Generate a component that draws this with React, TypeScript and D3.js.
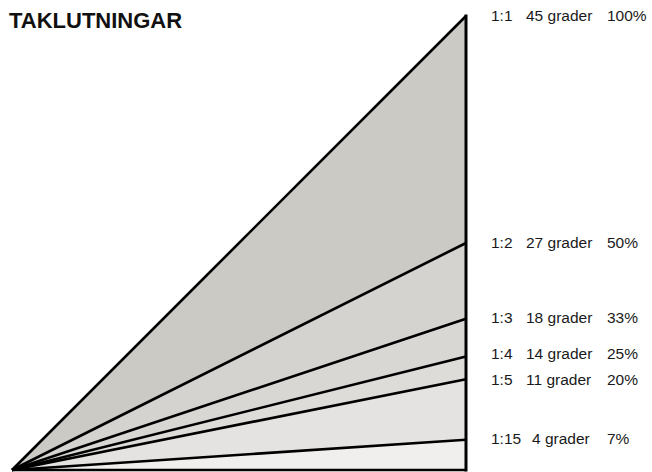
import React from 'react';
import * as d3 from 'd3';

// roof pitches
const ratios = ['1:1', '1:2', '1:3', '1:4', '1:5', '1:15'];
const slopes = [1, 1 / 2, 1 / 3, 1 / 4, 1 / 5, 1 / 15];
const degrees = ['45 grader', '27 grader', '18 grader', '14 grader', '11 grader', '4 grader'];
const percents = ['100%', '50%', '33%', '25%', '20%', '7%'];
const bandColors = ['#cbcac5', '#d4d3cf', '#d8d7d3', '#dddcd9', '#e4e3e1', '#f0efed'];

const W = 652;
const H = 472;

const App: React.FC = () => {
  const x = d3.scaleLinear().domain([0, 1]).range([12, 466]);
  const y = d3.scaleLinear().domain([0, 1]).range([470, 16]);

  const line = d3.line<[number, number]>()
    .x(d => x(d[0]))
    .y(d => y(d[1]));

  // bands between consecutive slopes, last one down to the base
  const bounds = [...slopes, 0];
  const bands = slopes.map((s, i) => {
    const next = bounds[i + 1];
    return line([[0, 0], [1, s], [1, next], [0, 0]]) + 'Z';
  });

  const labelNudge = [-1, -1, -1, -3, 0, -1];
  const font = 'Arial, "Liberation Sans", Helvetica, sans-serif';

  return (
    <svg width={W} height={H} style={{ position: 'absolute', left: 0, top: 0, background: '#fff' }}>
      <text x={9} y={28} fontFamily={font} fontWeight="bold" fontSize={22} fill="#111">
        TAKLUTNINGAR
      </text>

      {bands.map((d, i) => (
        <path key={'b' + i} d={d} fill={bandColors[i]} stroke="none" />
      ))}

      {slopes.map((s, i) => (
        <path key={'l' + i} d={line([[0, 0], [1, s]]) as string} fill="none" stroke="#000" strokeWidth={2.6} />
      ))}

      {/* base and right edge */}
      <path d={line([[0, 0], [1, 0]]) as string} fill="none" stroke="#000" strokeWidth={2.6} />
      <path d={line([[1, 0], [1, 1]]) as string} fill="none" stroke="#000" strokeWidth={3} strokeLinecap="square" />

      {slopes.map((s, i) => {
        const ty = y(s) + labelNudge[i];
        return (
          <g key={'t' + i} fontFamily={font} fontSize={15.5} fill="#1a1a1a" dominantBaseline="central">
            <text x={491} y={ty}>{ratios[i]}</text>
            <text x={ratios[i].length > 3 ? 532 : 526} y={ty}>{degrees[i]}</text>
            <text x={607} y={ty}>{percents[i]}</text>
          </g>
        );
      })}
    </svg>
  );
};

export default App;
